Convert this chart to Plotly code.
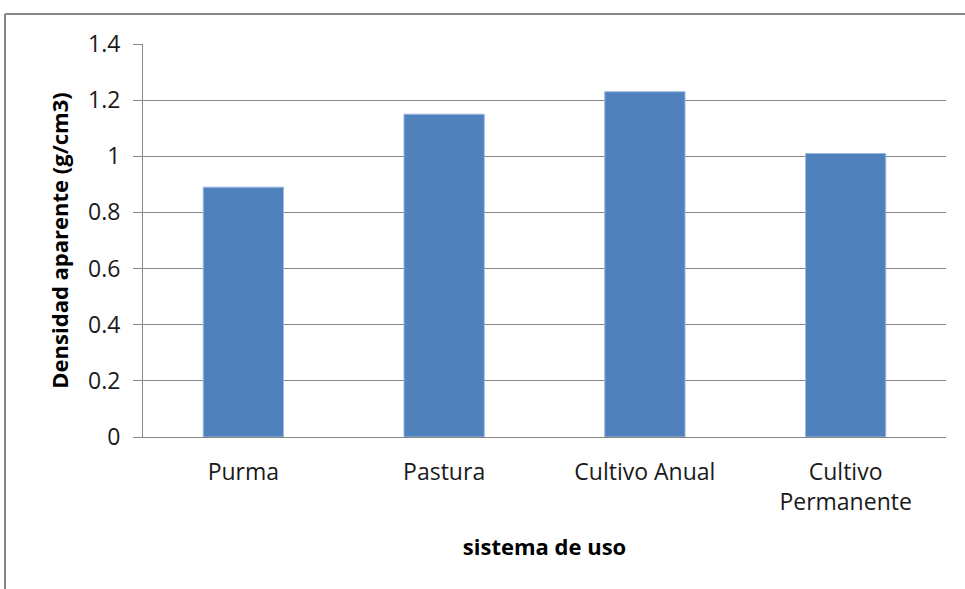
import plotly.graph_objects as go

# Bulk density by land-use system
categorias = ["Purma", "Pastura", "Cultivo Anual", "Cultivo<br>Permanente"]
densidad = [0.89, 1.15, 1.23, 1.01]
y_ticks = [0, 0.2, 0.4, 0.6, 0.8, 1.0, 1.2, 1.4]
y_tick_text = ["0", "0.2", "0.4", "0.6", "0.8", "1", "1.2", "1.4"]

W, H = 965, 589
L, R, T, B = 143, 19, 44, 152
FONT = "'Open Sans', sans-serif"
GRID = "#868686"

fig = go.Figure(
    go.Bar(
        x=categorias,
        y=densidad,
        marker=dict(color="#4F81BD", line=dict(color="#9DB9DD", width=1)),
        hoverinfo="x+y",
    )
)

plot_w = W - L - R
plot_h = H - T - B

# outer chart frame (top and left edges visible)
frame = dict(type="line", xref="paper", yref="paper",
             line=dict(color=GRID, width=2), layer="above")
x_left = (5 - L) / plot_w
y_top = 1 + (T - 14) / plot_h
shapes = [
    dict(frame, x0=x_left, x1=1 + (R + 10) / plot_w, y0=y_top, y1=y_top),
    dict(frame, x0=x_left, x1=x_left, y0=y_top, y1=-(B + 10) / plot_h),
]

fig.update_layout(
    width=W, height=H,
    margin=dict(l=L, r=R, t=T, b=B, pad=0),
    paper_bgcolor="white", plot_bgcolor="white",
    bargap=0.6,
    showlegend=False,
    font=dict(family=FONT, size=23, color="#1a1a1a"),
    shapes=shapes,
    xaxis=dict(
        showline=True, linecolor=GRID, linewidth=1,
        ticks="", showgrid=False,
        tickfont=dict(size=23),
        ticklabelstandoff=14,
        title=dict(text="<b>sistema de uso</b>", font=dict(size=22, color="black"), standoff=24),
    ),
    yaxis=dict(
        range=[0, 1.4],
        tickvals=y_ticks, ticktext=y_tick_text,
        showline=True, linecolor=GRID, linewidth=1,
        showgrid=True, gridcolor=GRID, gridwidth=1,
        zeroline=False,
        ticks="outside", ticklen=9, tickcolor=GRID,
        tickfont=dict(size=23),
        ticklabelstandoff=8,
        title=dict(text="<b>Densidad aparente (g/cm3)</b>", font=dict(size=22, color="black"), standoff=13),
    ),
)

fig.write_html("out.html")
